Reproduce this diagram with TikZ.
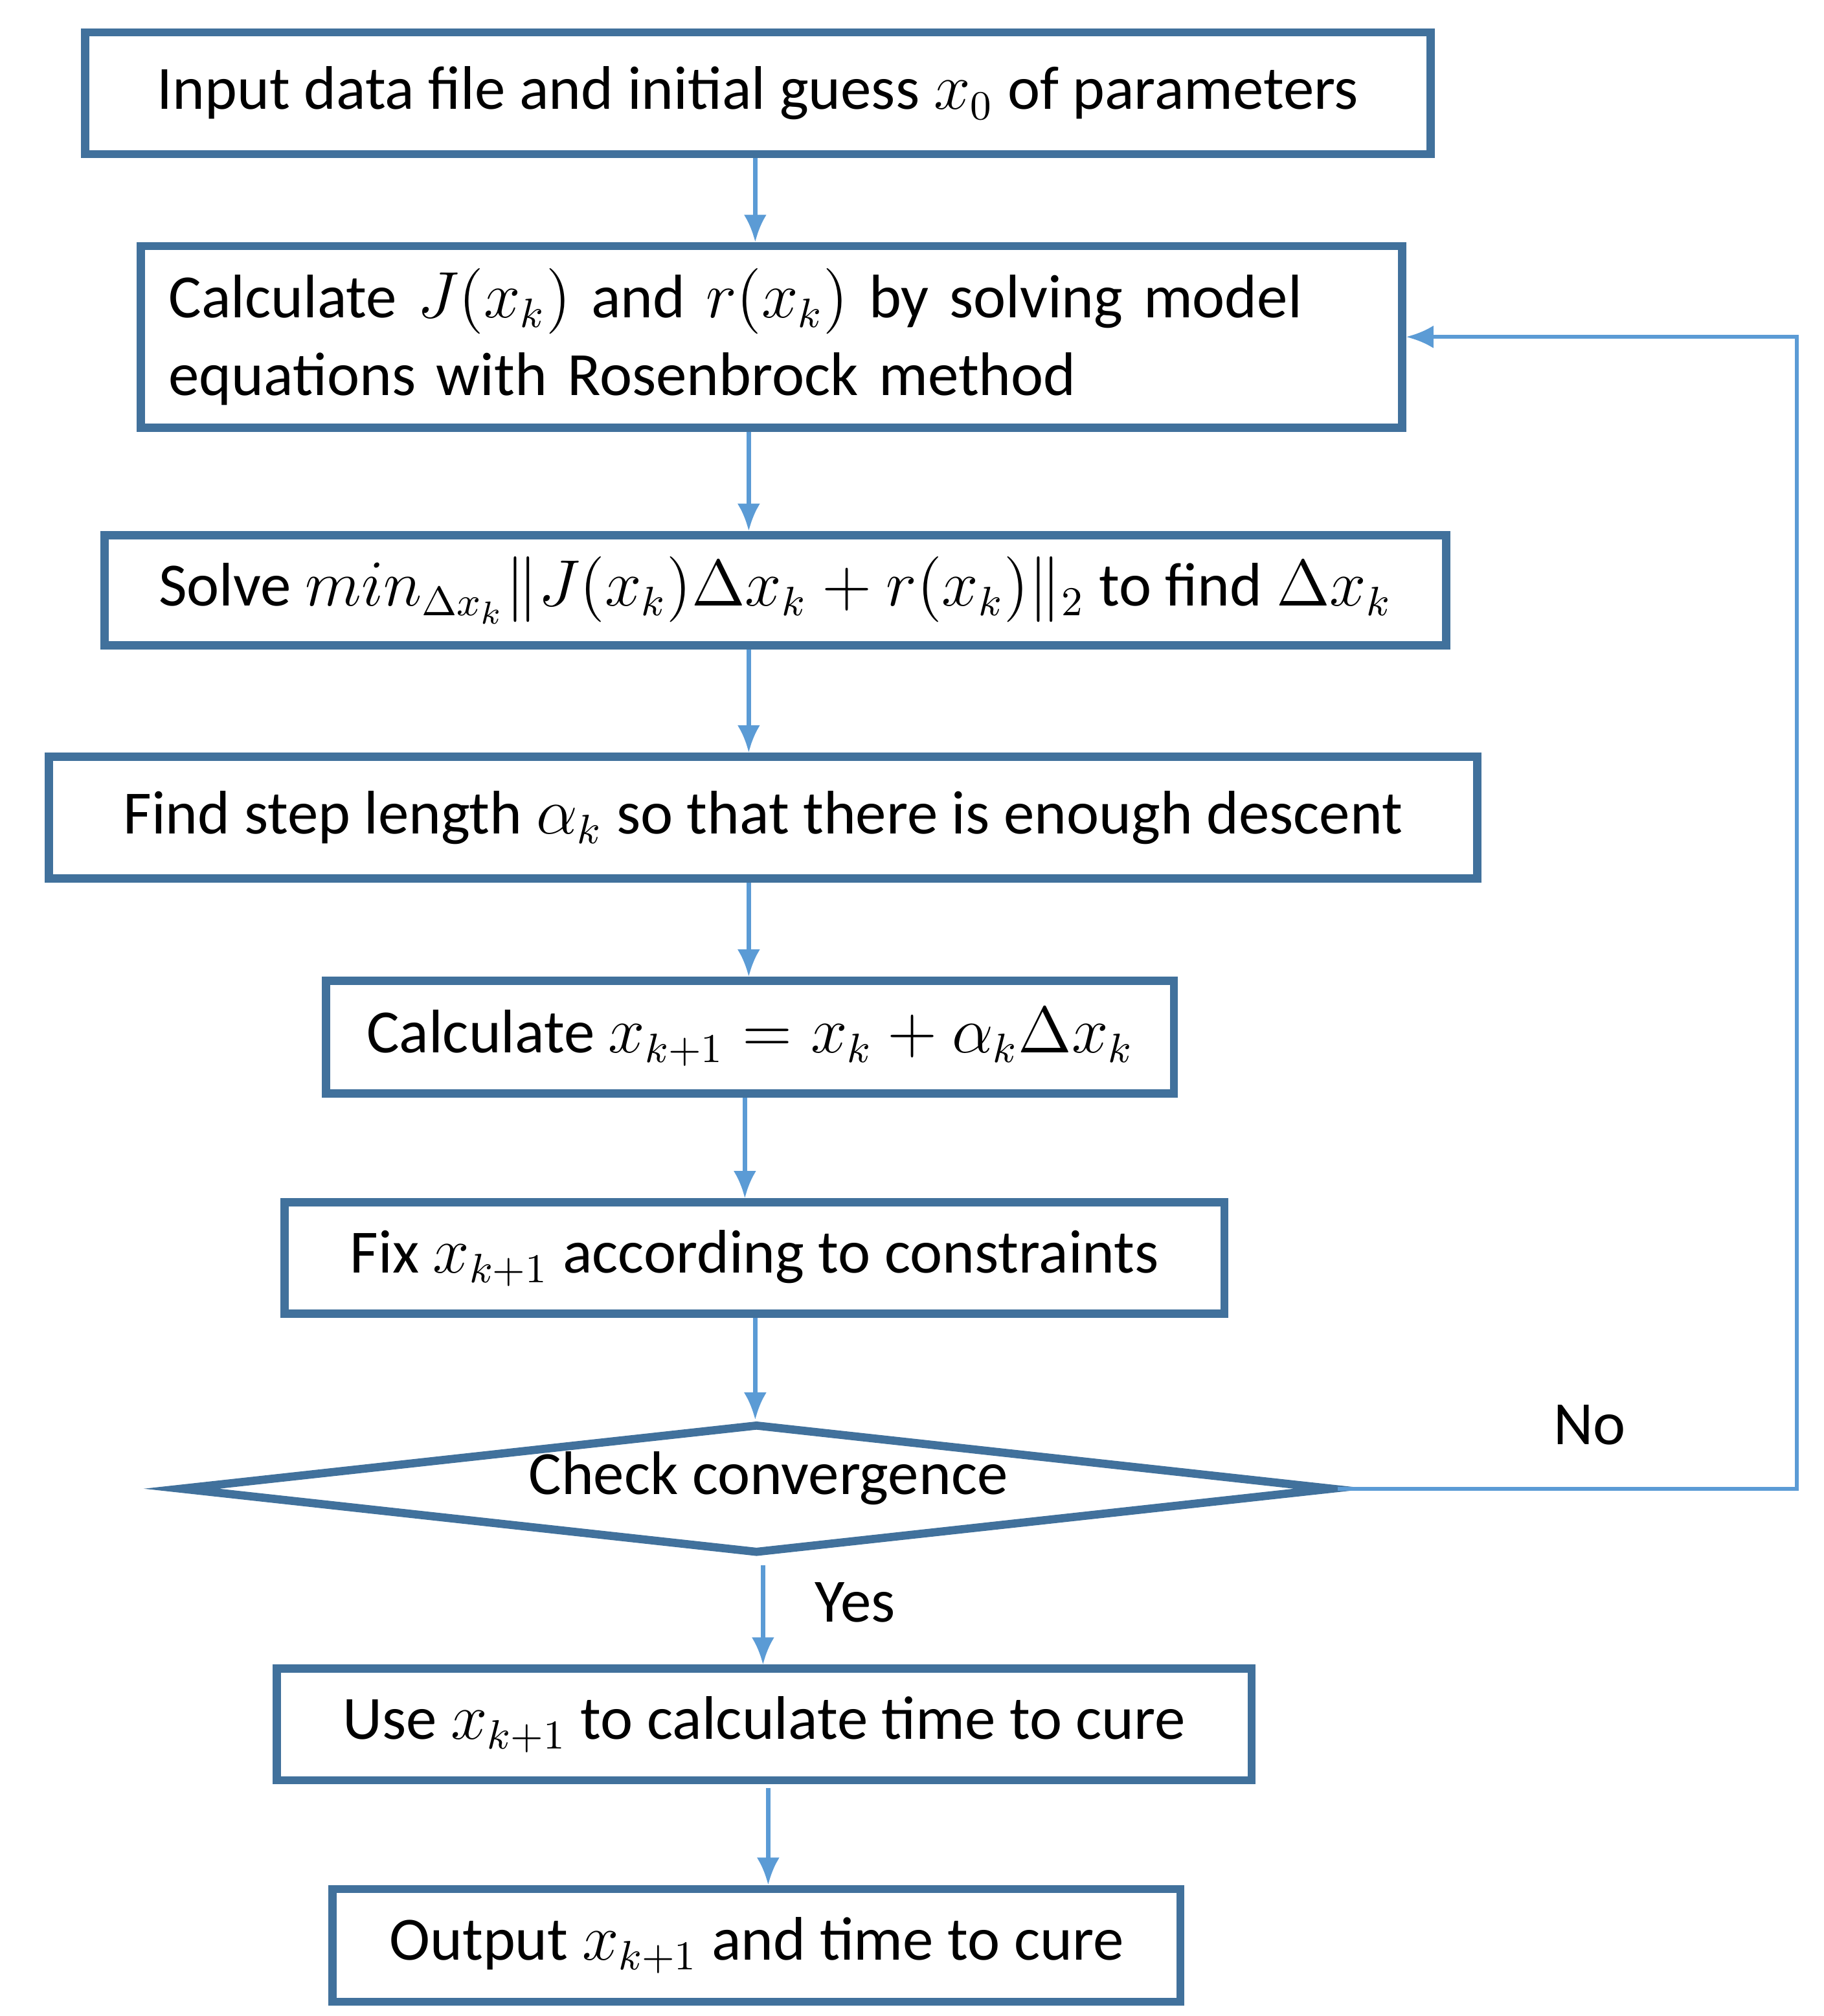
\documentclass[tikz,border=0pt]{standalone}
\usepackage{fontspec}
\setmainfont{Carlito}
\usetikzlibrary{shapes.geometric,arrows.meta}
\begin{document}
\begin{tikzpicture}[x=0.01cm,y=-0.01cm,
  box/.style={draw=boxc,line width=1.8pt,inner sep=0pt,font=\fontsize{13.5}{17}\selectfont},
  arr/.style={draw=arrc,line width=0.9pt,-{Latex[length=6pt,width=5pt]}},
  lab/.style={font=\fontsize{13.5}{17}\selectfont}]
\definecolor{boxc}{HTML}{41719C}
\definecolor{arrc}{HTML}{5B9BD5}
\useasboundingbox (0,0) rectangle (1408,1556);
\node[box,minimum width=10.38cm,minimum height=0.94cm] (n1) at (585,72) {Input data file and initial guess $x_0$ of parameters};
\node[box,minimum width=9.73cm,minimum height=1.40cm,align=left,text width=9.3cm] (n2) at (595.5,260) {\raggedright Calculate $J(x_k)$ and $r(x_k)$ by solving model\\equations with Rosenbrock method};
\node[box,minimum width=10.35cm,minimum height=0.85cm] (n3) at (598.5,455.5) {Solve $min_{\Delta x_k}\|J(x_k)\Delta x_k+r(x_k)\|_2$ to find $\Delta x_k$};
\node[box,minimum width=11.02cm,minimum height=0.94cm] (n4) at (589,631) {Find step length $\alpha_k$ so that there is enough descent};
\node[box,minimum width=6.54cm,minimum height=0.87cm] (n5) at (579,800.5) {Calculate $x_{k+1}=x_k+\alpha_k\Delta x_k$};
\node[box,minimum width=7.25cm,minimum height=0.86cm] (n6) at (582.5,971) {Fix $x_{k+1}$ according to constraints};
\node[box,diamond,aspect=8.6,minimum width=8.9cm,minimum height=1.0cm,inner sep=0pt] (d) at (584,1149) {};
\node[lab] at (593,1141) {Check convergence};
\node[box,minimum width=7.52cm,minimum height=0.86cm] (n7) at (590,1331) {Use $x_{k+1}$ to calculate time to cure};
\node[box,minimum width=6.54cm,minimum height=0.87cm] (n8) at (584,1501.5) {Output $x_{k+1}$ and time to cure};
\draw[arr] (n1.south -| 583,0) -- (n2.north -| 583,0);
\draw[arr] (n2.south -| 578,0) -- (n3.north -| 578,0);
\draw[arr] (n3.south -| 578,0) -- (n4.north -| 578,0);
\draw[arr] (n4.south -| 578,0) -- (n5.north -| 578,0);
\draw[arr] (n5.south -| 575,0) -- (n6.north -| 575,0);
\draw[arr] (n6.south -| 583,0) -- (d.north -| 583,0);
\draw[arr] (589,1208) -- (n7.north -| 589,0);
\draw[arr] (593,1380) -- (n8.north -| 593,0);
\coordinate (c1) at (1387,1149);
\coordinate (c2) at (1387,260);
\draw[arr] (d.east) -- (c1) -- (c2) -- (n2.east);
\node[lab] at (1227,1100) {No};
\node[lab] at (660,1237) {Yes};
\end{tikzpicture}
\end{document}
